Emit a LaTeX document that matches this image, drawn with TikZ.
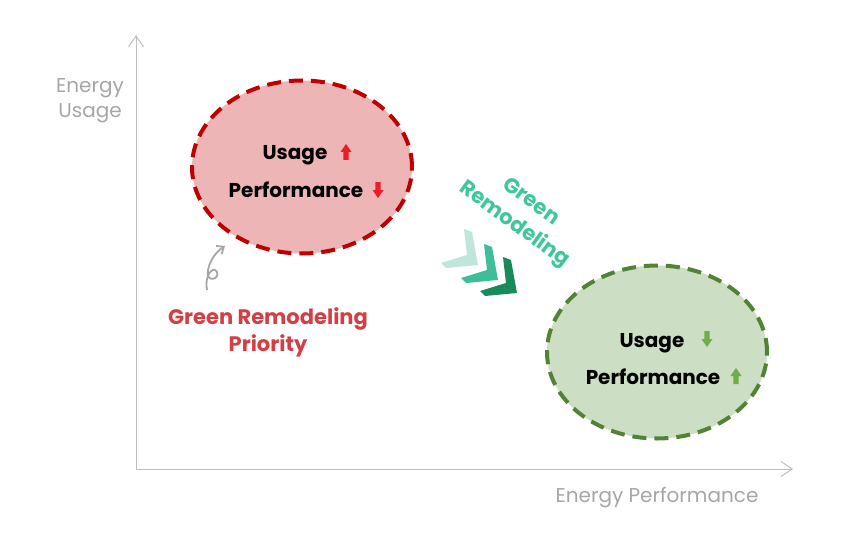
\documentclass[tikz,border=0pt]{standalone}
\usepackage{fontspec}
\setmainfont{Poppins}
\usetikzlibrary{positioning,shapes.geometric,arrows.meta}
\definecolor{axisgray}{HTML}{BFBFBF}
\definecolor{labelgray}{HTML}{A6A6A6}
\definecolor{redfill}{HTML}{EDB5B5}
\definecolor{redline}{HTML}{C00000}
\definecolor{redtext}{HTML}{D23F44}
\definecolor{redarrow}{HTML}{EE1C25}
\definecolor{greenfill}{HTML}{CCDEC4}
\definecolor{greenline}{HTML}{548235}
\definecolor{greenarrow}{HTML}{70AD47}
\definecolor{tealtext}{HTML}{3EC79D}
\definecolor{chevlight}{HTML}{BFE6DA}
\definecolor{chevmid}{HTML}{3DBE98}
\definecolor{chevdark}{HTML}{1B8A5B}

\begin{document}
\begin{tikzpicture}[x=1pt,y=-1pt,
		zone/.style={ellipse,line width=4pt,dash pattern=on 14pt off 8pt,minimum width=220pt,minimum height=173pt,inner sep=0pt},
		item/.style={font=\fontsize{20}{22}\selectfont\bfseries,inner sep=0pt},
		axis label/.style={font=\fontsize{20}{25}\selectfont,text=labelgray,align=center},
		axis/.style={draw=axisgray,line width=1pt,-{Straight Barb[length=11pt,width=15pt]}},
		updown/.pic={\fill (-2.7,8) -- (-2.7,0) -- (-5.5,0) -- (0,-8) -- (5.5,0) -- (2.7,0) -- (2.7,8) -- cycle;}]
		\useasboundingbox (0,0) rectangle (842,540);
		
		\coordinate (origin) at (136,469);
		\coordinate (ytip) at (136,35);
		\coordinate (xtip) at (793,469);
		\draw[axis] (origin) -- (ytip);
		\draw[axis] (origin) -- (xtip);
		
		\node[axis label] (ylabel) at (90,101) {Energy\\Usage};
		\node[axis label] (xlabel) at (657,498) {Energy Performance};
		
		\node[zone,draw=redline,fill=redfill] (high) at (302,167) {};
		\node[item] (high usage) at (295,155) {Usage};
		\node[item] (high perf) at (296,190) {Performance};
		\pic[redarrow] (high usage arrow) at (346,152) {updown};
		\pic[redarrow,rotate=180] (high perf arrow) at (378,190) {updown};
		
		\node[zone,draw=greenline,fill=greenfill] (low) at (657,352) {};
		\node[item] (low usage) at (652,343) {Usage};
		\node[item] (low perf) at (653,377) {Performance};
		\pic[greenarrow,rotate=180] (low usage arrow) at (707,339) {updown};
		\pic[greenarrow] (low perf arrow) at (736,376) {updown};
		
		\node[font=\fontsize{21}{27}\selectfont\bfseries,text=redtext,align=center] (priority) at (268,332) {Green Remodeling\\Priority};
		\coordinate (curl start) at (207,290);
		\coordinate (curl end) at (225,246);
		\draw[labelgray,line width=1.8pt,-{Straight Barb[length=6pt,width=10pt]}] (curl start) .. controls (204,276) and (213,265) .. (217,272) .. controls (220,280) and (205,283) .. (208,270) .. controls (210,260) and (216,252) .. (curl end);
		
		\node[font=\fontsize{21}{28}\selectfont\bfseries,text=tealtext,align=center,rotate=-36] (remodel) at (522,214) {Green\\Remodeling};
		\foreach \c/\dx/\dy in {chevlight/0/0,chevmid/20/15,chevdark/39/28}
		\fill[\c,shift={(\dx,\dy)}] (464,229) -- (472,232) -- (478,265) -- (446,268) -- (441,263) -- (467,255) -- cycle;
		
		\end{tikzpicture}
\end{document}
